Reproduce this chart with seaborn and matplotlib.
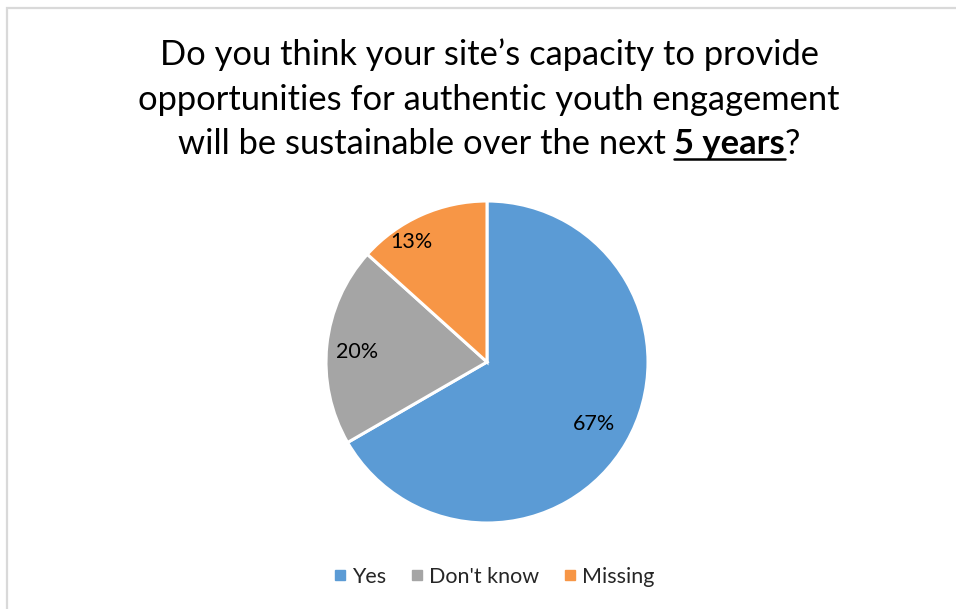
import matplotlib
matplotlib.use("Agg")
import matplotlib.pyplot as plt
from matplotlib.lines import Line2D
from matplotlib.patches import Rectangle
import numpy as np
import seaborn as sns

# Survey responses (number of sites)
categories = ["Yes", "Don't know", "Missing"]
counts = [10, 3, 2]
pct_labels = ["67%", "20%", "13%"]
colors = ["#5b9bd5", "#a5a5a5", "#f79646"]

title_lines = [
    "Do you think your site\u2019s capacity to provide",
    "opportunities for authentic youth engagement",
]
title_tail = ["will be sustainable over the next ", "5 years", "?"]

sns.set_theme(style="white")
FONT = "Lato"
plt.rcParams["font.family"] = [FONT, "DejaVu Sans"]

W, H = 956, 609
fig = plt.figure(figsize=(W / 100, H / 100), dpi=100)
fig.patch.set_facecolor("white")

# light frame around the chart area
fig.add_artist(Rectangle((7 / W, -0.02), 1.2, 1 - 8 / H + 0.02,
                         transform=fig.transFigure, fill=False,
                         edgecolor="#d9d9d9", linewidth=1.6))

# pie axes: centre (487, 362) px, radius 161 px
cx, cy, r = 487, 362, 161
ax = fig.add_axes([(cx - r) / W, (H - cy - r) / H, 2 * r / W, 2 * r / H])
wedges, _ = ax.pie(counts, colors=sns.color_palette(colors), startangle=90,
                   counterclock=False, radius=1,
                   wedgeprops=dict(edgecolor="white", linewidth=2.2))
ax.set_xlim(-1, 1)
ax.set_ylim(-1, 1)
ax.set_aspect("equal")
ax.axis("off")
for w in wedges:
    w.set_clip_on(False)

# data labels: radial distance and angle tweak for each slice
label_r = [0.77, 0.81, 0.88]
label_dang = [0, 1.5, 8]
for w, txt, rr, da in zip(wedges, pct_labels, label_r, label_dang):
    ang = np.deg2rad((w.theta1 + w.theta2) / 2 + da)
    ax.text(rr * np.cos(ang), rr * np.sin(ang), txt, ha="center", va="center",
            fontsize=15.5, color="#000000")

# title
title_fs = 24.8
tx = 489 / W
base = [65, 109.5, 154]
for line, b in zip(title_lines, base):
    fig.text(tx, 1 - b / H, line, ha="center", va="baseline",
             fontsize=title_fs, color="#000000")

fig.canvas.draw()
rend = fig.canvas.get_renderer()
parts = []
for s, wt in zip(title_tail, ["normal", "bold", "normal"]):
    t = fig.text(0, 1 - base[2] / H, s, ha="left", va="baseline",
                 fontsize=title_fs, fontweight=wt, color="#000000")
    parts.append(t)
widths = [p.get_window_extent(rend).width for p in parts]
total = sum(widths)
x0 = tx * W - total / 2
xs = [x0, x0 + widths[0], x0 + widths[0] + widths[1]]
for p, x in zip(parts, xs):
    p.set_x(x / W)
# underline below the bold phrase
uy = 1 - (base[2] + 5) / H
fig.add_artist(Line2D([xs[1] / W, (xs[1] + widths[1]) / W], [uy, uy],
                      transform=fig.transFigure, color="#000000", linewidth=1.8))

# legend
handles = [Line2D([], [], marker="s", linestyle="", markersize=7,
                  markerfacecolor=c, markeredgecolor=c) for c in colors]
fig.legend(handles, categories, loc="center", bbox_to_anchor=(494 / W, 1 - 577 / H),
           ncol=3, frameon=False, fontsize=15.5, handlelength=0.6,
           handletextpad=0.25, columnspacing=1.15, borderpad=0)

fig.savefig("out.png", dpi=100, facecolor="white")
